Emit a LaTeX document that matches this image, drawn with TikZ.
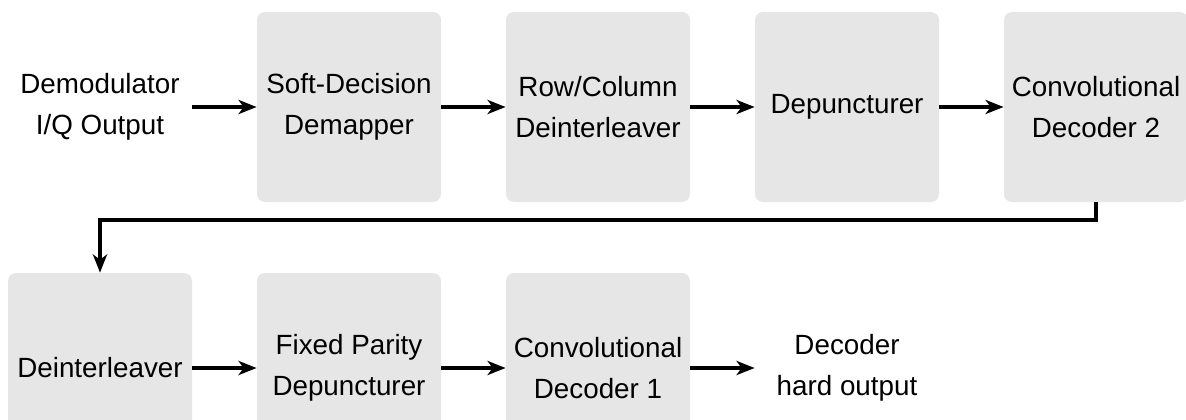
\documentclass[tikz,border=0pt]{standalone}
\usepackage{fontspec}
\setmainfont{Liberation Sans}
\usetikzlibrary{arrows.meta}
\definecolor{boxgray}{HTML}{E6E6E6}
\begin{document}
\begin{tikzpicture}[x=0.5pt, y=0.5pt, line join=miter,
	font=\fontsize{13.9}{20.5}\selectfont,
	blk/.style={minimum width=92pt, minimum height=95pt, align=center, inner sep=0pt, rounded corners=4pt},
	gblk/.style={blk, fill=boxgray},
	arr/.style={line width=1.8pt, -{Stealth[length=9pt, width=7pt, inset=2.5pt]}}]
			\path[use as bounding box, clip] (0,0) rectangle (1186,419);
			% top row
			\node[blk] (in) at (100,312) {Demodulator\\I/Q Output};
			\node[gblk] (sdd) at (349,312) {Soft-Decision\\Demapper};
			\node[gblk] (rcd) at (598,312) {Row/Column\\Deinterleaver};
			\node[gblk] (dep) at (847,312) {Depuncturer};
			\node[gblk] (cd2) at (1096,312) {Convolutional\\Decoder 2};
			% bottom row
			\node[gblk] (dil) at (100,51) {Deinterleaver};
			\node[gblk] (fpd) at (349,51) {Fixed Parity\\Depuncturer};
			\node[gblk] (cd1) at (598,51) {Convolutional\\Decoder 1};
			\node[blk] (out) at (847,51) {Decoder\\hard output};
			\foreach \a/\b in {in/sdd, sdd/rcd, rcd/dep, dep/cd2, dil/fpd, fpd/cd1, cd1/out}
			\draw[arr] (\a) -- (\b);
			\coordinate (fb) at (598,199);
			\draw[arr] (cd2.south) |- (fb) -| (dil.north);
\end{tikzpicture}
\end{document}
